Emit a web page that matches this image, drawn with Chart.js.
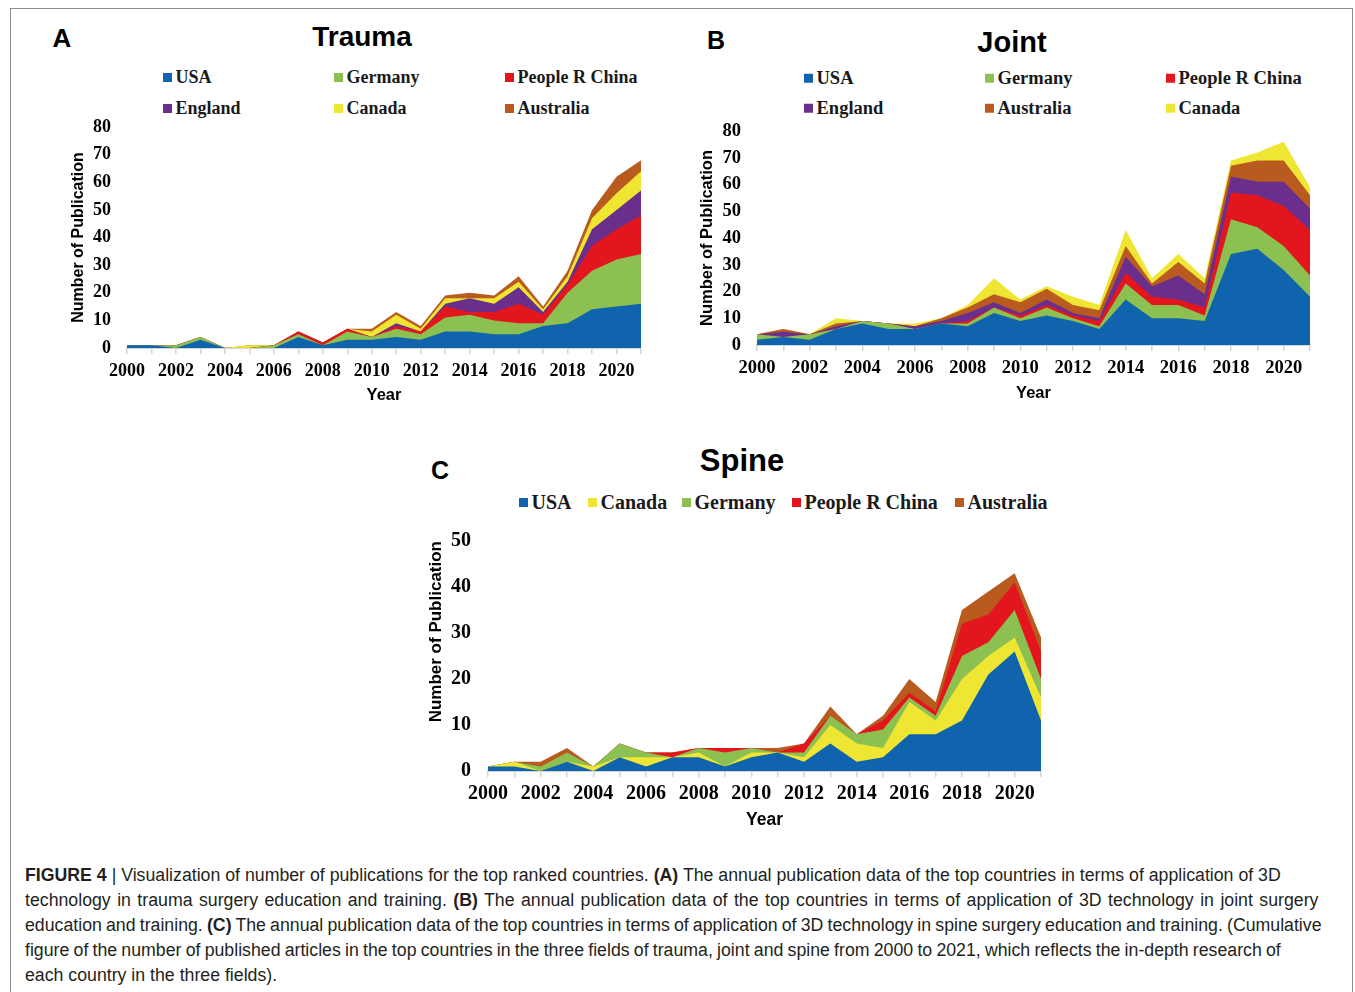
<!DOCTYPE html>
<html>
<head>
<meta charset="utf-8">
<title>Top countries: publications on 3D technology in surgical education</title>
<script src="https://cdn.jsdelivr.net/npm/chart.js@4.4.1/dist/chart.umd.min.js"></script>
<style>
  html, body { margin: 0; padding: 0; background: #fff; }
  body { width: 1355px; height: 992px; position: relative; overflow: hidden; font-family: "Liberation Sans", Arial, sans-serif; color: #000; }
  .frame { position: absolute; left: 10px; top: 8px; width: 1343px; height: 1010px; border: 1.5px solid #8c8c8c; box-sizing: border-box; }
  .letter { position: absolute; font-family: "Liberation Sans", Arial, sans-serif; font-weight: bold; line-height: 1; transform: translate(-50%, -50%); }
  .title { position: absolute; font-family: "Liberation Sans", Arial, sans-serif; font-weight: bold; line-height: 1; transform: translate(-50%, -50%); white-space: nowrap; }
  .legend-item { position: absolute; font-family: "Liberation Serif", "Times New Roman", serif; font-weight: bold; color: #1a1a1a; white-space: nowrap; line-height: 1; transform: translateY(-50%); display: flex; align-items: center; }
  .legend-item i { display: inline-block; width: 9px; height: 9px; margin-right: 3.5px; }
  canvas { position: absolute; }
  .cap-line { position: absolute; left: 25px; white-space: nowrap; color: #231f20; line-height: 1; transform-origin: 0 50%; font-family: "Liberation Sans", Arial, sans-serif; }
  .cap-line b { font-weight: bold; }
</style>
</head>
<body>
<div class="frame"></div>

<div class="letter" style="left:62px; top:38px; font-size:26px;">A</div>
<div class="title" style="left:362px; top:37px; font-size:28px;">Trauma</div>
<div class="letter" style="left:716px; top:40px; font-size:25px;">B</div>
<div class="title" style="left:1012px; top:42px; font-size:29px;">Joint</div>
<div class="letter" style="left:440px; top:470px; font-size:25px;">C</div>
<div class="title" style="left:742px; top:460px; font-size:31px;">Spine</div>

<div id="legend-trauma"></div>
<div id="legend-joint"></div>
<div id="legend-spine"></div>

<canvas id="trauma"></canvas>
<canvas id="joint"></canvas>
<canvas id="spine"></canvas>

<div class="cap-line" data-y="875"><b>FIGURE 4</b> | Visualization of number of publications for the top ranked countries. <b>(A)</b> The annual publication data of the top countries in terms of application of 3D</div>
<div class="cap-line" data-w="1293" data-y="900">technology in trauma surgery education and training. <b>(B)</b> The annual publication data of the top countries in terms of application of 3D technology in joint surgery</div>
<div class="cap-line" data-w="1297" data-y="925">education and training. <b>(C)</b> The annual publication data of the top countries in terms of application of 3D technology in spine surgery education and training. (Cumulative</div>
<div class="cap-line" data-w="1256" data-y="950">figure of the number of published articles in the top countries in the three fields of trauma, joint and spine from 2000 to 2021, which reflects the in-depth research of</div>
<div class="cap-line" data-y="975">each country in the three fields).</div>

<script>
// ---- categories ----
const yearLabels = ['2000','2001','2002','2003','2004','2005','2006','2007','2008','2009','2010',
                    '2011','2012','2013','2014','2015','2016','2017','2018','2019','2020','2021'];

// ---- country colours ----
const colUSA = '#1064ad';
const colGermany = '#8cc152';
const colChina = '#e4161d';
const colEngland = '#6a2f8d';
const colCanada = '#efe634';
const colAustralia = '#b95b1f';

// ---- Trauma: annual publications per country ----
const traumaUSA       = [1,1,0,3,0,0,0,4,1,3,3,4,3,6,6,5,5,8,9,14,15,16];
const traumaGermany   = [0,0,1,1,0,0,1,1,0,3,1,3,2,5,6,5,4,1,11,14,17,18];
const traumaChina     = [0,0,0,0,0,0,0,1,1,1,0,1,1,4,1,3,7,3,3,9,11,14];
const traumaEngland   = [0,0,0,0,0,0,0,0,0,0,0,1,0,1,5,3,6,1,1,6,7,9];
const traumaCanada    = [0,0,0,0,0,1,0,0,0,0,2,3,1,2,0,2,2,1,2,4,6,7];
const traumaAustralia = [0,0,0,0,0,0,0,0,0,0,1,1,1,1,2,1,2,1,2,3,6,4];

// ---- Joint: annual publications per country ----
const jointUSA       = [2,3,2,6,8,6,6,8,7,12,9,11,9,6,17,10,10,9,34,36,28,18];
const jointGermany   = [2,0,2,0,1,2,0,0,1,2,1,3,1,1,6,5,5,2,13,8,9,8];
const jointChina     = [0,0,0,0,0,0,0,0,1,0,1,1,1,2,4,3,2,3,10,12,15,17];
const jointEngland   = [0,2,0,1,0,0,1,1,3,2,1,2,1,1,6,4,9,5,6,5,9,8];
const jointAustralia = [0,1,0,1,0,0,0,1,2,3,4,4,3,3,4,1,5,4,4,8,8,5];
const jointCanada    = [0,0,0,2,0,0,1,0,1,6,1,1,3,2,6,2,3,2,2,3,7,3];

// ---- Spine: annual publications per country ----
const spineUSA       = [1,1,0,2,0,3,1,3,3,1,3,4,2,6,2,3,8,8,11,21,26,11];
const spineCanada    = [0,1,0,0,1,0,2,0,1,0,1,0,1,4,4,2,7,3,9,4,3,5];
const spineGermany   = [0,0,1,2,0,3,1,0,1,3,1,0,1,2,2,4,1,1,5,3,6,4];
const spineChina     = [0,0,0,0,0,0,0,1,0,1,0,0,2,0,0,2,1,1,7,6,6,6];
const spineAustralia = [0,0,1,1,0,0,0,0,0,0,0,1,0,2,0,1,3,2,3,5,2,3];

// ---- axis settings ----
const traumaYMax = 80, jointYMax = 80, spineYMax = 50, yStep = 10;

// stacking order is bottom to top
const traumaSeries = [
  { name: 'USA', values: traumaUSA, color: colUSA },
  { name: 'Germany', values: traumaGermany, color: colGermany },
  { name: 'People R China', values: traumaChina, color: colChina },
  { name: 'England', values: traumaEngland, color: colEngland },
  { name: 'Canada', values: traumaCanada, color: colCanada },
  { name: 'Australia', values: traumaAustralia, color: colAustralia }
];
const jointSeries = [
  { name: 'USA', values: jointUSA, color: colUSA },
  { name: 'Germany', values: jointGermany, color: colGermany },
  { name: 'People R China', values: jointChina, color: colChina },
  { name: 'England', values: jointEngland, color: colEngland },
  { name: 'Australia', values: jointAustralia, color: colAustralia },
  { name: 'Canada', values: jointCanada, color: colCanada }
];
const spineSeries = [
  { name: 'USA', values: spineUSA, color: colUSA },
  { name: 'Canada', values: spineCanada, color: colCanada },
  { name: 'Germany', values: spineGermany, color: colGermany },
  { name: 'People R China', values: spineChina, color: colChina },
  { name: 'Australia', values: spineAustralia, color: colAustralia }
];

// legend placement: [series index, marker left, row centre]
function buildLegend(containerId, series, slots, fontSize) {
  const box = document.getElementById(containerId);
  slots.forEach(([idx, x, y]) => {
    const s = series[idx];
    const el = document.createElement('div');
    el.className = 'legend-item';
    el.style.left = x + 'px';
    el.style.top = y + 'px';
    el.style.fontSize = fontSize + 'px';
    const sw = document.createElement('i');
    sw.style.background = s.color;
    el.appendChild(sw);
    el.appendChild(document.createTextNode(s.name));
    box.appendChild(el);
  });
}

buildLegend('legend-trauma', traumaSeries,
  [[0,163,77],[1,334,77],[2,505,77],[3,163,108],[4,334,108],[5,505,108]], 18);
buildLegend('legend-joint', jointSeries,
  [[0,804,78],[1,985,78],[2,1166,78],[3,804,108],[4,985,108],[5,1166,108]], 18.5);
buildLegend('legend-spine', spineSeries,
  [[0,519,502],[1,588,502],[2,682,502],[3,792,502],[4,955,502]], 20);

// one stacked-area panel; `area` is the plot rectangle on the page
function buildPanel(id, series, yMax, area, f) {
  const padL = 110, padT = 30, padR = 40, padB = 90;
  const cw = Math.round(area.right - area.left + padL + padR);
  const ch = Math.round(area.bottom - area.top + padT + padB);
  const canvas = document.getElementById(id);
  canvas.width = cw; canvas.height = ch;
  canvas.style.width = cw + 'px'; canvas.style.height = ch + 'px';
  canvas.style.left = (area.left - padL) + 'px';
  canvas.style.top = (area.top - padT) + 'px';

  const yTitleLH = f.yTitle * 1.2;
  const xTitleLH = f.xTitle * 1.2;
  const yScaleWidth = f.yTitleOffset + yTitleLH / 2;
  const xScaleHeight = f.xTitleOffset + xTitleLH / 2;
  const tickLen = 6;

  // each layer is filled from its stacked top down to zero; lower layers
  // are painted later and cover the rest, so adjacent bands share no seam
  const datasets = series.map(s => ({
    label: s.name,
    data: s.values,
    backgroundColor: s.color,
    borderColor: s.color,
    borderWidth: 0,
    pointRadius: 0,
    pointHoverRadius: 0,
    tension: 0,
    fill: 'origin'
  }));

  return new Chart(canvas, {
    type: 'line',
    data: { labels: yearLabels, datasets },
    options: {
      responsive: false,
      animation: false,
      devicePixelRatio: 1,
      layout: { padding: { left: padL - yScaleWidth, top: padT, right: padR, bottom: padB - xScaleHeight } },
      plugins: { legend: { display: false }, tooltip: { enabled: false }, title: { display: false } },
      scales: {
        x: {
          type: 'category',
          offset: false,
          grid: { display: true, drawOnChartArea: false, drawTicks: true, tickLength: tickLen, color: '#d4d4d4', lineWidth: 1.5 },
          border: { display: true, color: '#d4d4d4', width: 2 },
          ticks: {
            autoSkip: false, maxRotation: 0, minRotation: 0,
            padding: f.xLabelOffset - tickLen - f.tick * 0.6,
            color: '#000',
            font: { family: '"Liberation Serif", "Times New Roman", serif', weight: 'bold', size: f.tick },
            callback: (v, i) => (i % 2 === 0 ? yearLabels[i] : '')
          },
          title: { display: true, text: 'Year', color: '#000', padding: 0,
                   font: { family: '"Liberation Sans", Arial, sans-serif', weight: 'bold', size: f.xTitle } },
          afterFit: s => { s.height = xScaleHeight; s.paddingLeft = 0; s.paddingRight = 0; }
        },
        y: {
          stacked: true,
          min: 0, max: yMax,
          grid: { display: false, drawTicks: false },
          border: { display: false },
          ticks: {
            stepSize: yStep,
            padding: f.yLabelGap,
            color: '#000',
            font: { family: '"Liberation Serif", "Times New Roman", serif', weight: 'bold', size: f.tick }
          },
          title: { display: true, text: 'Number of Publication', color: '#000', padding: 0,
                   align: f.yTitleAlign || 'center',
                   font: { family: '"Liberation Sans", Arial, sans-serif', weight: 'bold', size: f.yTitle } },
          afterFit: s => { s.width = yScaleWidth; s.paddingTop = 0; s.paddingBottom = 0; }
        }
      }
    }
  });
}

buildPanel('trauma', traumaSeries, traumaYMax,
  { left: 127, top: 127, right: 641, bottom: 347.5 },
  { tick: 18, yTitle: 16, xTitle: 16.5, yTitleOffset: 48, xTitleOffset: 47, xLabelOffset: 23, yLabelGap: 16 });

buildPanel('joint', jointSeries, jointYMax,
  { left: 757, top: 130.5, right: 1310, bottom: 344.5 },
  { tick: 18.5, yTitle: 16.5, xTitle: 16.5, yTitleOffset: 50, xTitleOffset: 48, xLabelOffset: 23, yLabelGap: 16 });

buildPanel('spine', spineSeries, spineYMax,
  { left: 488, top: 541, right: 1041, bottom: 771 },
  { tick: 20, yTitle: 17, xTitle: 17.5, yTitleOffset: 52, xTitleOffset: 49, xLabelOffset: 23, yLabelGap: 17, yTitleAlign: 'end' });

// caption: a narrow setting of the text; the first line runs at its natural
// width, the other full lines are spread or tightened to their measure
(function layoutCaption() {
  const lines = Array.from(document.querySelectorAll('.cap-line'));
  const fontSize = 18;
  lines.forEach(l => { l.style.fontSize = fontSize + 'px'; });
  const k = 1256 / lines[0].offsetWidth;
  lines.forEach(l => {
    const y = parseFloat(l.dataset.y);
    l.style.top = (y - l.offsetHeight / 2) + 'px';
    l.style.transform = 'scaleX(' + k + ')';
    const target = parseFloat(l.dataset.w || '0');
    if (!target) return;
    const w = l.offsetWidth;
    const spaces = (l.textContent.match(/ /g) || []).length;
    if (spaces) l.style.wordSpacing = ((target / k - w) / spaces) + 'px';
  });
})();
</script>
</body>
</html>
